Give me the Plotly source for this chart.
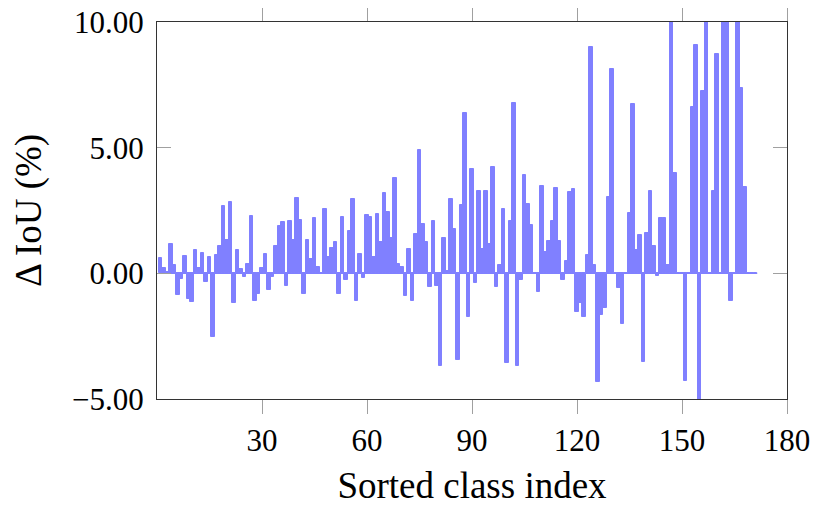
import plotly.graph_objects as go

# Delta IoU per class, sorted by class index (1..171); values past the axis limits are clipped
class_index = list(range(1, 172))
delta_iou = [
    0.61, 0.21, 0.05, 1.18, 0.32, -0.88, -0.23, 0.70, -1.04, -1.14,
    0.92, 0.21, 0.81, -0.35, 0.65, -2.54, 0.73, 1.10, 2.67, 1.31,
    2.83, -1.18, 0.94, 0.16, -0.15, 0.36, 2.28, -1.09, -0.84, 0.23,
    0.78, -0.65, -0.15, 1.08, 1.87, 2.03, -0.49, 2.08, 1.34, 3.00,
    2.14, -0.81, 1.31, 0.57, 2.20, 0.25, -0.04, 2.54, 0.65, 1.02,
    1.26, -0.84, 2.24, -0.28, 1.69, 2.95, -1.10, 0.78, -0.20, 2.31,
    2.23, 0.65, 2.36, 1.25, 3.21, 2.44, 1.41, 3.81, 0.36, 0.25,
    -0.89, 0.98, -1.12, 1.55, 4.90, 1.95, 1.24, -0.56, 2.07, -0.50,
    -3.70, 1.42, 0.10, 2.96, 1.77, -3.44, 2.70, 6.37, -1.75, 4.17,
    -0.37, 3.28, 0.97, 3.29, 1.16, 4.22, -0.54, 0.32, 2.54, -3.57,
    2.07, 6.76, -3.69, -0.28, 3.90, 2.75, 1.93, 0.02, -0.76, 3.49,
    0.85, 1.27, 2.08, 3.39, 1.27, -0.25, 0.49, 3.24, 3.35, -1.52,
    -1.20, -1.73, 0.72, 9.00, 0.32, -4.33, -1.67, -1.38, 3.03, 8.13,
    0.00, -0.57, -2.03, 0.00, 2.42, 6.72, 0.93, 1.51, -3.53, 1.59,
    3.27, 1.08, -0.11, 2.22, 2.22, 0.33, 11.5, 4.01, 0.00, 0.00,
    -4.29, 0.00, 6.60, 9.08, -5.60, 7.26, 12.0, 0.00, 3.27, 8.74,
    0.00, 10.8, 10.4, -1.10, 0.00, 11.2, 7.37, 3.44, 0.00, 0.00,
    0.00,
]
x_ticks = [30, 60, 90, 120, 150, 180]
y_ticks = [-5, 0, 5, 10]
y_tick_text = ["\u22125.00", "0.00", "5.00", "10.00"]

BAR_COLOR = "#8080ff"
FONT = "Liberation Serif"

fig = go.Figure()

# baseline drawn by pgfplots for zero-height bars
fig.add_trace(go.Scatter(
    x=[class_index[0] - 0.5, class_index[-1] + 0.5],
    y=[0, 0],
    mode="lines",
    line=dict(color=BAR_COLOR, width=1.5),
    hoverinfo="skip",
    showlegend=False,
))

fig.add_trace(go.Bar(
    x=class_index,
    y=delta_iou,
    marker=dict(color=BAR_COLOR, line=dict(width=1.0, color=BAR_COLOR)),
    showlegend=False,
))

# the page body adds an 8px offset, so the margins are shifted to compensate
fig.update_layout(
    width=823,
    height=505,
    margin=dict(l=149, r=44, t=14, b=114),
    plot_bgcolor="white",
    paper_bgcolor="white",
    bargap=0.0,
    font=dict(family=FONT, size=31, color="black"),
)
fig.update_xaxes(
    range=[0, 180],
    tickvals=x_ticks,
    ticks="outside",
    ticklen=14,
    tickwidth=1,
    tickcolor="#a0a0a0",
    showline=True,
    linecolor="#333333",
    linewidth=1.3,
    mirror="ticks",
    showgrid=False,
    zeroline=False,
    automargin=False,
    title=dict(text="Sorted class index", standoff=14),
)
fig.update_yaxes(
    range=[-5, 10],
    tickvals=y_ticks,
    ticktext=y_tick_text,
    ticks="inside",
    ticklen=14,
    tickwidth=1,
    tickcolor="#a0a0a0",
    showline=True,
    linecolor="#333333",
    linewidth=1.3,
    mirror="ticks",
    showgrid=False,
    zeroline=False,
    automargin=False,
    ticklabeloverflow="allow",
    ticklabelstandoff=6,
    title=dict(text="\u0394 IoU (%)", standoff=18),
)

fig.write_html("out.html")
